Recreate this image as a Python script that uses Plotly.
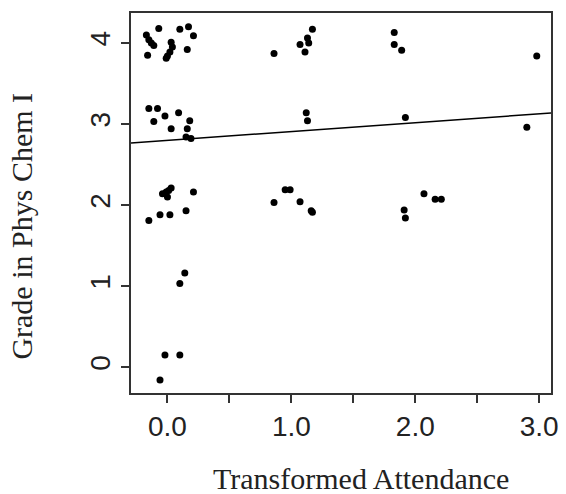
import plotly.graph_objects as go
import numpy as np

# Data
attendance = [
    -0.07, -0.17, -0.15, -0.13, -0.11, -0.16, 0.10, 0.17, 0.21, 0.03, 0.04, 0.02, 0.00, -0.01, 0.16,
    0.86, 1.07, 1.13, 1.14, 1.11, 1.17, 1.83, 1.83, 1.89, 2.98,
    -0.15, -0.08, -0.02, -0.11, 0.09, 0.03, 0.18, 0.16, 0.15, 0.19, 1.12, 1.13, 1.92, 2.90,
    -0.01, -0.04, 0.00, 0.03, 0.01, 0.21, -0.15, -0.06, 0.02, 0.15,
    0.86, 0.95, 0.99, 1.07, 1.16, 1.17, 1.91, 1.92, 2.07, 2.16, 2.21,
    0.14, 0.10,
    -0.02, 0.10, -0.06,
]
grade = [
    4.18, 4.10, 4.04, 4.00, 3.97, 3.85, 4.17, 4.20, 4.09, 4.01, 3.95, 3.89, 3.84, 3.81, 3.92,
    3.87, 3.98, 4.06, 4.00, 3.89, 4.17, 4.13, 3.98, 3.91, 3.84,
    3.19, 3.19, 3.10, 3.03, 3.14, 2.94, 3.04, 2.94, 2.84, 2.82, 3.14, 3.04, 3.08, 2.96,
    2.16, 2.14, 2.10, 2.21, 2.18, 2.16, 1.81, 1.88, 1.88, 1.93,
    2.03, 2.19, 2.19, 2.04, 1.93, 1.91, 1.94, 1.84, 2.14, 2.07, 2.07,
    1.16, 1.03,
    0.15, 0.15, -0.16,
]
fit_intercept = 2.797
fit_slope = 0.1095

x_range = [-0.294, 3.095]
y_range = [-0.32, 4.37]
x_tickvals = [0.0, 0.5, 1.0, 1.5, 2.0, 2.5, 3.0]
x_ticktext = ["0.0", "", "1.0", "", "2.0", "", "3.0"]
y_tickvals = [0, 1, 2, 3, 4]
y_ticktext = ["0", "1", "2", "3", "4"]

line_x = np.array(x_range)
line_y = fit_intercept + fit_slope * line_x

fig = go.Figure()
fig.add_trace(go.Scatter(x=attendance, y=grade, mode="markers",
                         marker=dict(color="black", size=7), hoverinfo="skip"))
fig.add_trace(go.Scatter(x=line_x, y=line_y, mode="lines",
                         line=dict(color="black", width=1.5), hoverinfo="skip"))

tick_font = dict(family="Liberation Sans, Arial, sans-serif", size=28, color="#222")
title_font = dict(family="Liberation Serif, Times New Roman, serif", size=30, color="#222")

fig.update_layout(
    width=566, height=494,
    margin=dict(l=131, r=8, t=13, b=101),
    paper_bgcolor="white", plot_bgcolor="white",
    showlegend=False,
    xaxis=dict(range=x_range, tickvals=x_tickvals, ticktext=x_ticktext,
               ticks="outside", ticklen=8, tickwidth=1.5, tickcolor="#333",
               showline=True, mirror=True, linecolor="#333", linewidth=1.5,
               showgrid=False, zeroline=False, tickfont=tick_font),
    yaxis=dict(range=y_range, tickvals=y_tickvals, ticktext=y_ticktext,
               ticks="outside", ticklen=8, tickwidth=1.5, tickcolor="#333",
               tickangle=-90,
               showline=True, mirror=True, linecolor="#333", linewidth=1.5,
               showgrid=False, zeroline=False, tickfont=tick_font),
    annotations=[
        dict(text="Transformed Attendance", xref="paper", yref="paper",
             x=0.548, y=-0.224, showarrow=False, font=title_font,
             xanchor="center", yanchor="middle"),
        dict(text="Grade in Phys Chem I", xref="paper", yref="paper",
             x=-0.26, y=0.44, showarrow=False, font=title_font, textangle=-90,
             xanchor="center", yanchor="middle"),
    ],
)

fig.write_html("out.html", config={"displayModeBar": False},
               post_script="document.body.style.margin='0';document.body.style.overflow='hidden';")
